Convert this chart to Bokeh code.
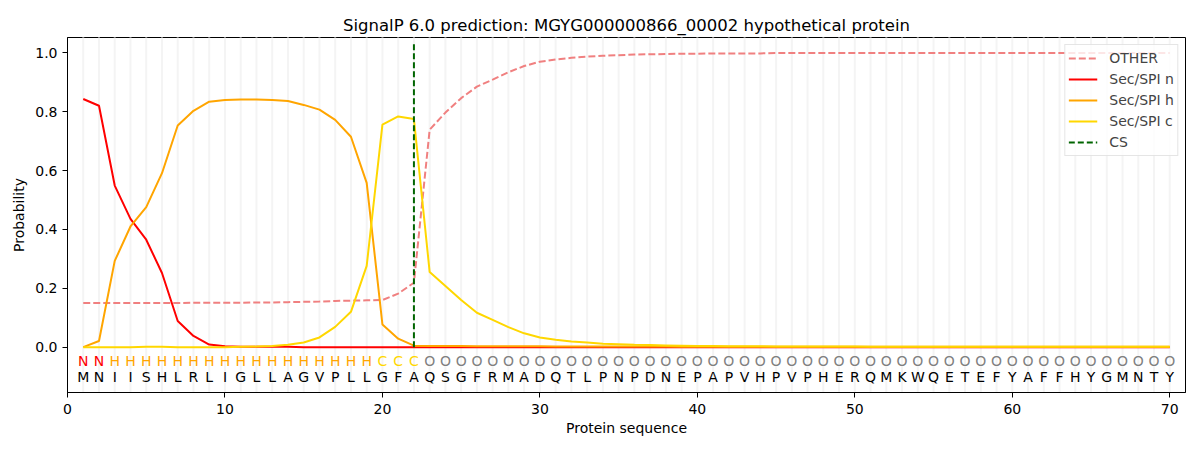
from bokeh.plotting import figure
from bokeh.models import (ColumnDataSource, FixedTicker, PrintfTickFormatter,
                          Legend, LegendItem, Range1d)
from bokeh.embed import file_html
from bokeh.resources import INLINE
from bokeh.core.properties import value

title = "SignalP 6.0 prediction: MGYG000000866_00002 hypothetical protein"
positions = list(range(1, 71))
residues = list("MNIISHLRLIGLLAGVPLLGFAQSGFRMADQTLPNPDNEPAPVHPVPHERQMKWQETEFYAFFHYGMNTY")
regions = list("NN" + "H" * 17 + "CCC" + "O" * 48)
cs_pos = 22

other = [0.150, 0.150, 0.150, 0.150, 0.150, 0.150, 0.150, 0.151, 0.151, 0.151,
         0.151, 0.152, 0.152, 0.153, 0.154, 0.155, 0.157, 0.158, 0.159, 0.160,
         0.182, 0.219, 0.739, 0.797, 0.846, 0.885, 0.909, 0.934, 0.955, 0.970,
         0.977, 0.983, 0.987, 0.990, 0.992, 0.994, 0.995, 0.996, 0.997, 0.997,
         0.998, 0.998, 0.998, 0.998, 0.999, 0.999, 0.999, 0.999, 0.999, 0.999,
         0.999, 0.999, 0.999, 0.999, 0.999, 0.999, 0.999, 0.999, 0.999, 0.999,
         0.999, 0.999, 0.999, 0.999, 0.999, 0.999, 0.999, 0.999, 0.999, 0.999]

sp_n = [0.843, 0.820, 0.549, 0.436, 0.365, 0.252, 0.089, 0.038, 0.009, 0.003,
        0.001, 0.001, 0.001, 0.001, 0.000, 0.000, 0.000, 0.000, 0.000, 0.000,
        0.000, 0.000, 0.000, 0.000, 0.000, 0.000, 0.000, 0.000, 0.000, 0.000,
        0.000, 0.000, 0.000, 0.000, 0.000, 0.000, 0.000, 0.000, 0.000, 0.000,
        0.000, 0.000, 0.000, 0.000, 0.000, 0.000, 0.000, 0.000, 0.000, 0.000,
        0.000, 0.000, 0.000, 0.000, 0.000, 0.000, 0.000, 0.000, 0.000, 0.000,
        0.000, 0.000, 0.000, 0.000, 0.000, 0.000, 0.000, 0.000, 0.000, 0.000]

sp_h = [0.000, 0.021, 0.293, 0.410, 0.476, 0.591, 0.753, 0.803, 0.834, 0.840,
        0.841, 0.841, 0.840, 0.836, 0.823, 0.807, 0.772, 0.715, 0.558, 0.077,
        0.029, 0.005, 0.004, 0.004, 0.004, 0.003, 0.003, 0.003, 0.003, 0.003,
        0.002, 0.002, 0.002, 0.002, 0.002, 0.002, 0.002, 0.002, 0.001, 0.001,
        0.001, 0.001, 0.001, 0.001, 0.001, 0.001, 0.001, 0.001, 0.001, 0.001,
        0.001, 0.001, 0.001, 0.001, 0.001, 0.001, 0.001, 0.001, 0.001, 0.001,
        0.001, 0.001, 0.001, 0.001, 0.001, 0.001, 0.001, 0.001, 0.001, 0.001]

sp_c = [0.000, 0.000, 0.000, 0.000, 0.001, 0.001, 0.000, 0.000, 0.000, 0.000,
        0.001, 0.002, 0.004, 0.008, 0.016, 0.033, 0.069, 0.120, 0.276, 0.756,
        0.784, 0.775, 0.255, 0.208, 0.160, 0.117, 0.093, 0.068, 0.047, 0.033,
        0.025, 0.019, 0.016, 0.012, 0.010, 0.008, 0.007, 0.006, 0.005, 0.004,
        0.004, 0.003, 0.003, 0.003, 0.002, 0.002, 0.002, 0.002, 0.002, 0.002,
        0.001, 0.001, 0.001, 0.001, 0.001, 0.001, 0.001, 0.001, 0.001, 0.001,
        0.001, 0.001, 0.001, 0.001, 0.001, 0.001, 0.001, 0.001, 0.001, 0.001]

region_colors = {"N": "red", "H": "orange", "C": "gold", "O": "grey"}

FONT = "DejaVu Sans"

p = figure(width=1200, height=450, output_backend="svg", toolbar_location=None,
           x_range=Range1d(0, 71), y_range=Range1d(-0.154, 1.052),
           min_border_left=67, min_border_right=15, min_border_top=37,
           min_border_bottom=58, title=title)

p.title.align = "center"
p.title.text_font = FONT
p.title.text_font_size = "16.5px"
p.title.text_font_style = "normal"
p.title.text_color = "black"
p.title.standoff = 6

p.xgrid.visible = False
p.ygrid.visible = False
p.outline_line_color = "black"
p.outline_line_width = 1
p.outline_line_alpha = 1

for ax in (p.xaxis[0], p.yaxis[0]):
    ax.major_tick_out = 5
    ax.major_tick_in = 0
    ax.minor_tick_out = 0
    ax.minor_tick_in = 0
    ax.major_label_text_font = FONT
    ax.major_label_text_font_size = "14px"
    ax.major_label_text_color = "black"
    ax.axis_label_text_font = FONT
    ax.axis_label_text_font_size = "14px"
    ax.axis_label_text_font_style = "normal"
    ax.axis_label_text_color = "black"
    ax.axis_line_color = "black"
    ax.major_tick_line_color = "black"

p.xaxis.ticker = FixedTicker(ticks=[0, 10, 20, 30, 40, 50, 60, 70])
p.yaxis.ticker = FixedTicker(ticks=[0.0, 0.2, 0.4, 0.6, 0.8, 1.0])
p.yaxis.formatter = PrintfTickFormatter(format="%.1f")
p.xaxis.axis_label = "Protein sequence"
p.yaxis.axis_label = "Probability"
p.xaxis.major_label_standoff = 6
p.xaxis.axis_label_standoff = 3
p.yaxis.major_label_standoff = 5
p.yaxis.axis_label_standoff = 5

# light vertical guide lines at every residue
p.segment(x0=positions, y0=[-1] * len(positions), x1=positions, y1=[2] * len(positions),
          line_color="#f4f4f4", line_width=2)

src = ColumnDataSource(dict(x=positions, other=other, n=sp_n, h=sp_h, c=sp_c))

r_other = p.line("x", "other", source=src, line_color="#F08080", line_width=2,
                 line_dash="7 3")
r_n = p.line("x", "n", source=src, line_color="red", line_width=2)
r_h = p.line("x", "h", source=src, line_color="orange", line_width=2)
r_c = p.line("x", "c", source=src, line_color="gold", line_width=2)
r_cs = p.segment(x0=[cs_pos], y0=[0.0], x1=[cs_pos], y1=[1.036],
                 line_color="darkgreen", line_width=2, line_dash="6 3")

lab_src = ColumnDataSource(dict(
    x=positions,
    y_reg=[-0.047] * len(positions),
    y_res=[-0.101] * len(positions),
    reg=regions,
    res=residues,
    col=[region_colors[r] for r in regions],
))
p.text(x="x", y="y_reg", text="reg", source=lab_src, text_color="col",
       text_font=value(FONT), text_font_size="14px",
       text_align="center", text_baseline="middle")
p.text(x="x", y="y_res", text="res", source=lab_src, text_color="black",
       text_font=value(FONT), text_font_size="14px",
       text_align="center", text_baseline="middle")

legend = Legend(items=[
    LegendItem(label="OTHER", renderers=[r_other]),
    LegendItem(label="Sec/SPI n", renderers=[r_n]),
    LegendItem(label="Sec/SPI h", renderers=[r_h]),
    LegendItem(label="Sec/SPI c", renderers=[r_c]),
    LegendItem(label="CS", renderers=[r_cs]),
], location="top_right")
legend.margin = 7
legend.padding = 3
legend.spacing = 1
legend.glyph_width = 29
legend.glyph_height = 20
legend.label_height = 20
legend.label_standoff = 12
legend.label_text_font = FONT
legend.label_text_font_size = "14px"
legend.border_line_color = "#cccccc"
legend.border_line_width = 1
legend.background_fill_alpha = 0.8
p.add_layout(legend)

open("out.html", "w").write(file_html(p, INLINE))
